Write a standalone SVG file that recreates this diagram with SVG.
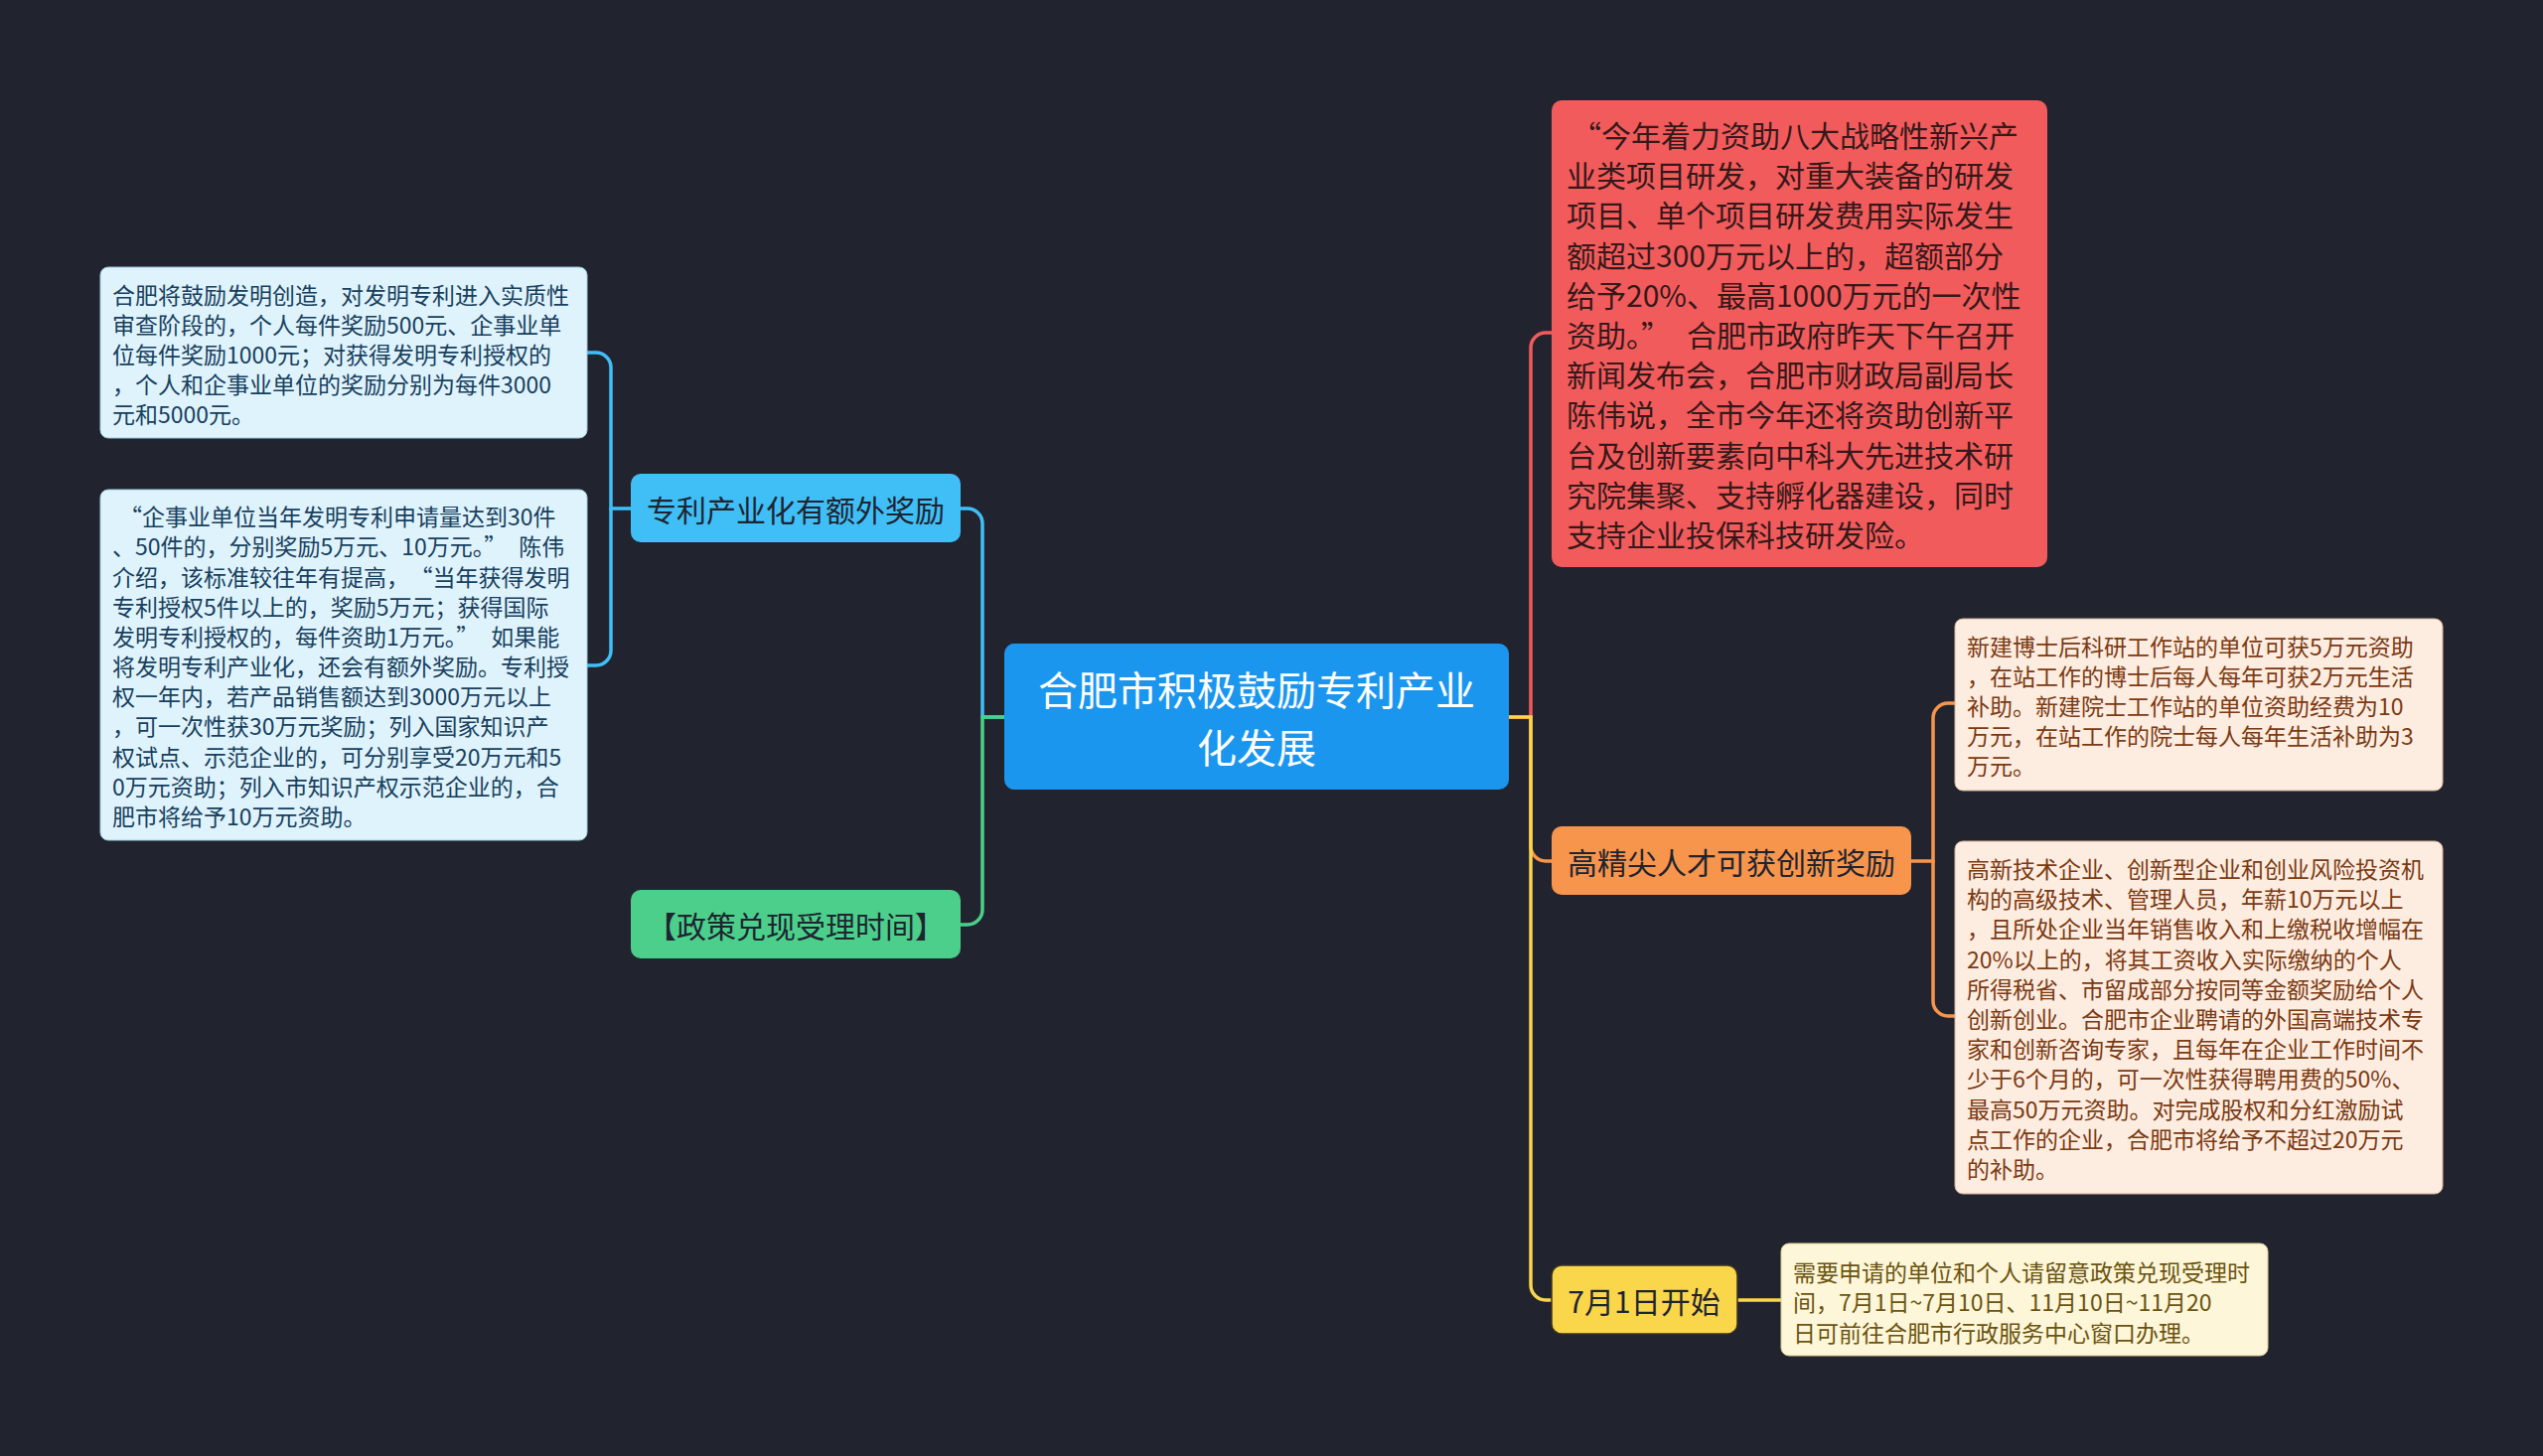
<svg xmlns="http://www.w3.org/2000/svg" width="2560" height="1466" viewBox="0 0 2560 1466">
<style>
text{font-family:"Noto Sans CJK SC","Noto Sans",sans-serif;dominant-baseline:central}
.conn{fill:none;stroke-width:3.5;stroke-linecap:round}
.small{font-size:23px}
.branch{font-size:30px;fill:#1e2430;text-anchor:middle}
.bl{fill:#dff3fc;stroke:#9ccbe0;stroke-width:1}
.blt{fill:#17405e}
.or{fill:#fdece0;stroke:#d9b49a;stroke-width:1}
.ort{fill:#7b3a12}
.ye{fill:#fdf6d8;stroke:#d8cc95;stroke-width:1}
.yet{fill:#6b5410}
</style>
<rect width="2560" height="1466" fill="#21242f"/>
<g id="connectors">
<path class="conn" stroke="#40bff7" d="M1011,722 H989 V527 A15,15 0 0 0 974,512 H967"/>
<path class="conn" stroke="#4ccf8b" d="M1011,722 H989 V916 A15,15 0 0 1 974,931 H967"/>
<path class="conn" stroke="#40bff7" d="M635,512 H615 V370 A15,15 0 0 0 600,355 H591"/>
<path class="conn" stroke="#40bff7" d="M615,512 V655 A15,15 0 0 1 600,670 H591"/>
<path class="conn" stroke="#f25b5b" d="M1519,722 H1541 V350 A15,15 0 0 1 1556,335 H1562"/>
<path class="conn" stroke="#f8954c" d="M1541,722 V852 A15,15 0 0 0 1556,867 H1562"/>
<path class="conn" stroke="#fad64b" d="M1519,722 H1541 V1294 A15,15 0 0 0 1556,1309 H1562"/>
<path class="conn" stroke="#f8954c" d="M1924,867 H1946 V723 A15,15 0 0 1 1961,708 H1968"/>
<path class="conn" stroke="#f8954c" d="M1946,867 V1008 A15,15 0 0 0 1961,1023 H1968"/>
<path class="conn" stroke="#fad64b" d="M1749,1309 H1793"/>
</g>
<g id="center">
<rect x="1011" y="648" width="508" height="147" rx="10" fill="#1a96ef"/>
<text x="1265" y="693" font-size="40" fill="#ffffff" text-anchor="middle">合肥市积极鼓励专利产业</text>
<text x="1265" y="751" font-size="40" fill="#ffffff" text-anchor="middle">化发展</text>
</g>
<g id="node-patent">
<rect x="635" y="477" width="332" height="69" rx="10" fill="#40bff7"/>
<text class="branch" x="801" y="512">专利产业化有额外奖励</text>
</g>
<g id="node-policy">
<rect x="635" y="896" width="332" height="69" rx="10" fill="#4ccf8b"/>
<text class="branch" x="801" y="931">【政策兑现受理时间】</text>
</g>
<g id="leaf-a">
<rect class="bl" x="101" y="269" width="490" height="172" rx="8"/>
<g class="small blt">
<text x="113" y="296">合肥将鼓励发明创造，对发明专利进入实质性</text>
<text x="113" y="326">审查阶段的，个人每件奖励500元、企事业单</text>
<text x="113" y="356">位每件奖励1000元；对获得发明专利授权的</text>
<text x="113" y="386">，个人和企事业单位的奖励分别为每件3000</text>
<text x="113" y="416">元和5000元。</text>
</g>
</g>
<g id="leaf-b">
<rect class="bl" x="101" y="493" width="490" height="353" rx="8"/>
<g class="small blt">
<text x="113" y="519"><tspan dx="7">“</tspan>企事业单位当年发明专利申请量达到30件</text>
<text x="113" y="549">、50件的，分别奖励5万元、10万元。”<tspan dx="12">陈伟</tspan></text>
<text x="113" y="580">介绍，该标准较往年有提高，<tspan dx="12">“</tspan>当年获得发明</text>
<text x="113" y="610">专利授权5件以上的，奖励5万元；获得国际</text>
<text x="113" y="640">发明专利授权的，每件资助1万元。”<tspan dx="12">如果能</tspan></text>
<text x="113" y="670">将发明专利产业化，还会有额外奖励。专利授</text>
<text x="113" y="700">权一年内，若产品销售额达到3000万元以上</text>
<text x="113" y="730">，可一次性获30万元奖励；列入国家知识产</text>
<text x="113" y="761">权试点、示范企业的，可分别享受20万元和5</text>
<text x="113" y="791">0万元资助；列入市知识产权示范企业的，合</text>
<text x="113" y="821">肥市将给予10万元资助。</text>
</g>
</g>
<g id="node-red">
<rect x="1562" y="101" width="499" height="470" rx="10" fill="#f25b5b"/>
<g font-size="30" fill="#35191a">
<text x="1577" y="135"><tspan dx="5">“</tspan>今年着力资助八大战略性新兴产</text>
<text x="1577" y="175">业类项目研发，对重大装备的研发</text>
<text x="1577" y="215">项目、单个项目研发费用实际发生</text>
<text x="1577" y="256">额超过300万元以上的，超额部分</text>
<text x="1577" y="296">给予20%、最高1000万元的一次性</text>
<text x="1577" y="336">资助。”<tspan dx="16">合肥市政府昨天下午召开</tspan></text>
<text x="1577" y="376">新闻发布会，合肥市财政局副局长</text>
<text x="1577" y="416">陈伟说，全市今年还将资助创新平</text>
<text x="1577" y="457">台及创新要素向中科大先进技术研</text>
<text x="1577" y="497">究院集聚、支持孵化器建设，同时</text>
<text x="1577" y="537">支持企业投保科技研发险。</text>
</g>
</g>
<g id="node-talent">
<rect x="1562" y="832" width="362" height="69" rx="10" fill="#f8954c"/>
<text class="branch" x="1743" y="867">高精尖人才可获创新奖励</text>
</g>
<g id="leaf-c">
<rect class="or" x="1968" y="623" width="491" height="173" rx="8"/>
<g class="small ort">
<text x="1980" y="650">新建博士后科研工作站的单位可获5万元资助</text>
<text x="1980" y="680">，在站工作的博士后每人每年可获2万元生活</text>
<text x="1980" y="710">补助。新建院士工作站的单位资助经费为10</text>
<text x="1980" y="740">万元，在站工作的院士每人每年生活补助为3</text>
<text x="1980" y="770">万元。</text>
</g>
</g>
<g id="leaf-d">
<rect class="or" x="1968" y="847" width="491" height="355" rx="8"/>
<g class="small ort">
<text x="1980" y="874">高新技术企业、创新型企业和创业风险投资机</text>
<text x="1980" y="904">构的高级技术、管理人员，年薪10万元以上</text>
<text x="1980" y="934">，且所处企业当年销售收入和上缴税收增幅在</text>
<text x="1980" y="965">20%以上的，将其工资收入实际缴纳的个人</text>
<text x="1980" y="995">所得税省、市留成部分按同等金额奖励给个人</text>
<text x="1980" y="1025">创新创业。合肥市企业聘请的外国高端技术专</text>
<text x="1980" y="1055">家和创新咨询专家，且每年在企业工作时间不</text>
<text x="1980" y="1085">少于6个月的，可一次性获得聘用费的50%、</text>
<text x="1980" y="1116">最高50万元资助。对完成股权和分红激励试</text>
<text x="1980" y="1146">点工作的企业，合肥市将给予不超过20万元</text>
<text x="1980" y="1176">的补助。</text>
</g>
</g>
<g id="node-july">
<rect x="1562" y="1274" width="187" height="69" rx="10" fill="#fad64b" stroke="#3a3320" stroke-width="1.5"/>
<text class="branch" x="1655" y="1309">7月1日开始</text>
</g>
<g id="leaf-e">
<rect class="ye" x="1793" y="1252" width="490" height="113" rx="8"/>
<g class="small yet">
<text x="1805" y="1280">需要申请的单位和个人请留意政策兑现受理时</text>
<text x="1805" y="1310">间，7月1日~7月10日、11月10日~11月20</text>
<text x="1805" y="1341">日可前往合肥市行政服务中心窗口办理。</text>
</g>
</g>
</svg>
